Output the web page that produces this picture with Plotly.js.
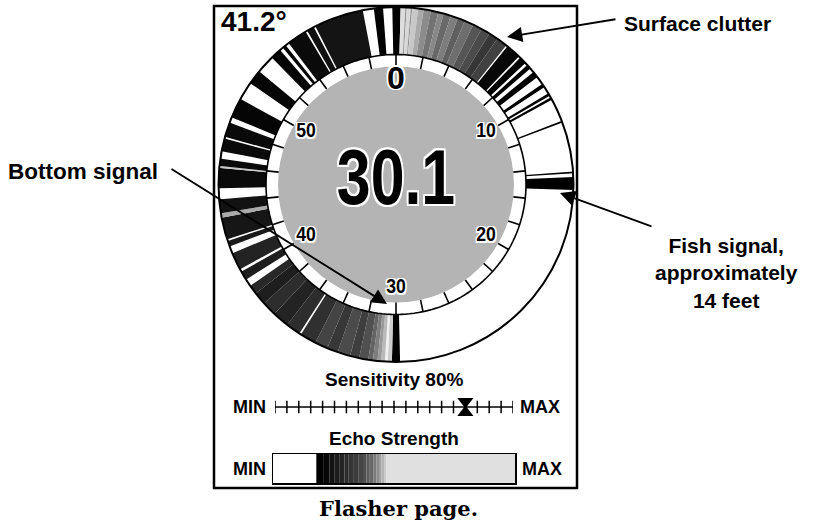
<!DOCTYPE html>
<html><head><meta charset="utf-8">
<script src="https://cdn.plot.ly/plotly-3.0.1.min.js"></script>
<style>html,body{margin:0;padding:0;background:#fff}#chart{width:815px;height:522px}</style>
</head><body><div id="chart"></div>
<script>
// ---- Flasher ring echoes: depth segments (ft) and gray level (0 black .. 255 white)
const segStart = [0,0.25,0.5,0.58,0.8,0.88,1.2,1.5,1.9,2.3,2.6,3.0,3.4,3.8,4.3,4.8,5.3,5.8,
  6.48,7.4,7.95,8.45,9.25,9.85,10.1,11.5,14.3,14.6,
  29.78,30.22,30.45,30.6,30.8,31.0,31.25,31.5,32.0,32.5,33.2,33.8,34.5,35.5,36.3,37.2,38.0,38.7,
  39.6,40.25,41.6,42.0,43.2,43.45,44.8,45.9,46.0,46.8,47.6,48.7,50.8,52.6,53.4,53.8,55.0,55.5,58.8,59.8];
const segEnd = [0.25,0.5,0.58,0.8,0.88,1.2,1.5,1.9,2.3,2.6,3.0,3.4,3.8,4.3,4.8,5.3,5.8,6.4,
  7.3,7.8,8.2,8.8,9.45,10.0,10.25,11.6,14.4,15.3,
  30.22,30.45,30.6,30.8,31.0,31.25,31.5,32.0,32.5,33.2,33.8,34.5,35.4,36.3,37.2,38.0,38.7,39.2,
  40.1,41.2,41.9,43.2,43.45,44.2,45.9,46.0,46.4,47.5,48.4,49.8,51.6,53.2,53.6,54.9,55.4,58.2,59.3,60.0];
const segLevel = [0,222,150,215,150,200,170,140,115,135,105,125,95,110,85,75,55,65,
  8,0,0,0,0,0,0,0,0,0,
  0,205,240,185,155,125,100,80,62,75,55,68,48,45,35,45,30,40,
  30,35,25,22,170,18,10,200,10,10,10,5,5,5,5,10,15,20,0,0];

const fullScaleFt = 60;
const depthTicks = [0,2,4,6,8,10,12,14,16,18,20,22,24,26,28,30,32,34,36,38,40,42,44,46,48,50,52,54,56,58];
const depthLabelVals = [0,10,20,30,40,50];
const depthLabelText = ['0','10','20','30','40','50'];
const depthReading = '30.1';
const waterTemp = '41.2°';

// ---- Sensitivity slider
const sensTicks = [0,5,10,15,20,25,30,35,40,45,50,55,60,65,70,75,85,90,95,100];
const sensitivity = 80;

// ---- Echo strength legend bar (percent of bar) and gray level
const echoStart = [17.9,21.0,23.4,25.5,27.6,29.5,31.3,33.1,35.2,37.2,38.6,40.0,41.4,42.8,43.8,44.8,45.9,46.9];
const echoEnd   = [21.0,23.4,25.5,27.6,29.5,31.3,33.1,35.2,37.2,38.6,40.0,41.4,42.8,43.8,44.8,45.9,46.9,100];
const echoLevel = [0,8,18,28,36,44,52,60,70,80,92,105,122,140,160,180,200,224];

const gray = l => `rgb(${l},${l},${l})`;
const deg = d => d * 360 / fullScaleFt;

const SANS = "'Liberation Sans',Arial,sans-serif";
const SERIF = "'DejaVu Serif','Liberation Serif',serif";
const outline = "2px 0 0 #fff,-2px 0 0 #fff,0 2px 0 #fff,0 -2px 0 #fff,2px 2px 0 #fff,-2px -2px 0 #fff,2px -2px 0 #fff,-2px 2px 0 #fff";
const outlineThin = "1.5px 0 0 #fff,-1.5px 0 0 #fff,0 1.5px 0 #fff,0 -1.5px 0 #fff,1.5px 1.5px 0 #fff,-1.5px -1.5px 0 #fff,1.5px -1.5px 0 #fff,-1.5px 1.5px 0 #fff";

// radii in radial-axis units
const R_OUT = 177.5, R_RING = 130, R_DISK = 118, R_LABEL = 104;

const traces = [];
traces.push({type:'barpolar', theta:[90,270], width:[180,180], base:[0,0], r:[R_DISK,R_DISK],
  marker:{color:'#b4b4b4', line:{width:0}}, hoverinfo:'skip', subplot:'polar'});
traces.push({type:'barpolar',
  theta: segStart.map((s,i)=>deg((s+segEnd[i])/2)),
  width: segStart.map((s,i)=>deg(segEnd[i]-s)),
  base: segStart.map(()=>R_RING),
  r: segStart.map(()=>R_OUT-R_RING+3),
  marker:{color: segLevel.map(gray), line:{width:0}}, hoverinfo:'skip', subplot:'polar'});
const tr=[], tt=[];
depthTicks.forEach(d=>{tr.push(R_DISK,R_RING,null); tt.push(deg(d),deg(d),null);});
traces.push({type:'scatterpolar', mode:'lines', r:tr, theta:tt, line:{color:'black', width:1.6},
  hoverinfo:'skip', subplot:'polar'});
const cT=[], cR=[];
for(let a=0;a<=360;a+=2){cT.push(a); cR.push(R_RING);}
traces.push({type:'scatterpolar', mode:'lines', r:cR, theta:cT, line:{color:'black', width:1.6},
  hoverinfo:'skip', subplot:'polar'});
traces.push({type:'scatterpolar', mode:'text', r:depthLabelVals.map(()=>R_LABEL),
  theta:depthLabelVals.map(deg), text:depthLabelText, textposition:'middle center',
  textfont:{family:SANS, size:depthLabelVals.map(v=>v===0?32:20), color:'black', weight:'bold', shadow:outlineThin},
  hoverinfo:'skip', subplot:'polar'});
traces.push({type:'scatterpolar', mode:'text', r:[0], theta:[0], text:[depthReading], textposition:'middle center',
  textfont:{family:SANS, size:78, color:'black', weight:'bold', shadow:outline},
  hoverinfo:'skip', subplot:'polar'});

traces.push({type:'scatter', x:[0,100], y:[0,0], mode:'lines', line:{color:'black', width:1.5},
  xaxis:'x', yaxis:'y', hoverinfo:'skip'});
traces.push({type:'scatter', x:sensTicks, y:sensTicks.map(()=>0), mode:'markers',
  marker:{symbol:'line-ns', size:9, line:{color:'black', width:1.5}}, xaxis:'x', yaxis:'y', hoverinfo:'skip'});
traces.push({type:'scatter', x:[sensitivity], y:[0.55], mode:'markers',
  marker:{symbol:'triangle-down', size:14, color:'black'}, xaxis:'x', yaxis:'y', hoverinfo:'skip'});
traces.push({type:'scatter', x:[sensitivity], y:[-0.55], mode:'markers',
  marker:{symbol:'triangle-up', size:14, color:'black'}, xaxis:'x', yaxis:'y', hoverinfo:'skip'});

traces.push({type:'bar', orientation:'h', y:echoStart.map(()=>0), base:echoStart,
  x:echoStart.map((s,i)=>echoEnd[i]-s), width:echoStart.map(()=>1),
  marker:{color:echoLevel.map(gray), line:{width:0}}, xaxis:'x2', yaxis:'y2', hoverinfo:'skip'});

const W=815, H=522;
const px = x => x/W, py = y => 1 - y/H;
const cx=396, cy=184.5;
const hidden = {visible:false, fixedrange:true};
const txt = (x,y,xa,text,size,family) => ({xref:'paper', yref:'paper', x:px(x), y:py(y), xanchor:xa, yanchor:'middle',
  text:text, showarrow:false, align:'center', font:{family:family||SANS, size:size, weight:'bold', color:'black'}});
const arrow = (x,y,ax,ay) => ({xref:'paper', yref:'paper', x:px(x), y:py(y), text:'', showarrow:true, ax:ax, ay:ay,
  arrowhead:2, arrowsize:1.7, arrowwidth:1.8, arrowcolor:'black'});

const layout = {
  width:W, height:H, margin:{l:0,r:0,t:0,b:0}, paper_bgcolor:'white', plot_bgcolor:'rgba(0,0,0,0)',
  showlegend:false, barmode:'overlay',
  polar:{
    domain:{x:[px(cx-R_OUT), px(cx+R_OUT)], y:[py(cy+R_OUT), py(cy-R_OUT)]},
    bgcolor:'white',
    radialaxis:{range:[0,R_OUT], visible:false, showgrid:false},
    angularaxis:{rotation:90, direction:'clockwise', showline:true, linecolor:'black', linewidth:2,
      showgrid:false, showticklabels:false, ticks:''}
  },
  xaxis:{domain:[px(275),px(513)], range:[0,100], ...hidden, anchor:'y'},
  yaxis:{domain:[py(419),py(395)], range:[-1.2,1.2], ...hidden, anchor:'x'},
  xaxis2:{domain:[px(273),px(515)], range:[0,100], anchor:'y2', showline:true, mirror:true, linecolor:'black',
    linewidth:1.5, showgrid:false, zeroline:false, showticklabels:false, ticks:'', fixedrange:true},
  yaxis2:{domain:[py(483),py(454)], range:[-0.5,0.5], anchor:'x2', showline:true, mirror:true, linecolor:'black',
    linewidth:1.5, showgrid:false, zeroline:false, showticklabels:false, ticks:'', fixedrange:true},
  shapes:[{type:'rect', xref:'paper', yref:'paper', x0:px(214), x1:px(577), y0:py(488), y1:py(6),
    line:{color:'black', width:2.5}, layer:'above'}],
  annotations:[
    txt(219,21,'left',waterTemp,28),
    txt(394,379,'center','Sensitivity 80%',19),
    txt(268,407,'right','MIN',18),
    txt(518,407,'left','MAX',18),
    txt(394,438,'center','Echo Strength',19),
    txt(268,469,'right','MIN',18),
    txt(520,469,'left','MAX',18),
    txt(398,508,'center','Flasher page.',21,SERIF),
    txt(622,23,'left','Surface clutter',21),
    txt(6,171,'left','Bottom signal',22.5),
    txt(726,273,'center','Fish signal,<br>approximately<br>14 feet',21),
    arrow(507,37,110,-18),
    arrow(387,304,-217,-136),
    arrow(560,193,93,34)
  ]
};
Plotly.newPlot('chart', traces, layout, {displayModeBar:false, staticPlot:true}).then(gd=>{
  // display font is condensed: narrow the big depth reading horizontally
  gd.querySelectorAll('.textpoint text').forEach(t=>{
    if(t.textContent===depthReading){
      t.style.transformBox='fill-box'; t.style.transformOrigin='center'; t.style.transform='scaleX(0.78)';
    } else if(t.textContent.length===2){
      t.style.transformBox='fill-box'; t.style.transformOrigin='center'; t.style.transform='scaleX(0.88)';
    }
  });
});
</script></body></html>
